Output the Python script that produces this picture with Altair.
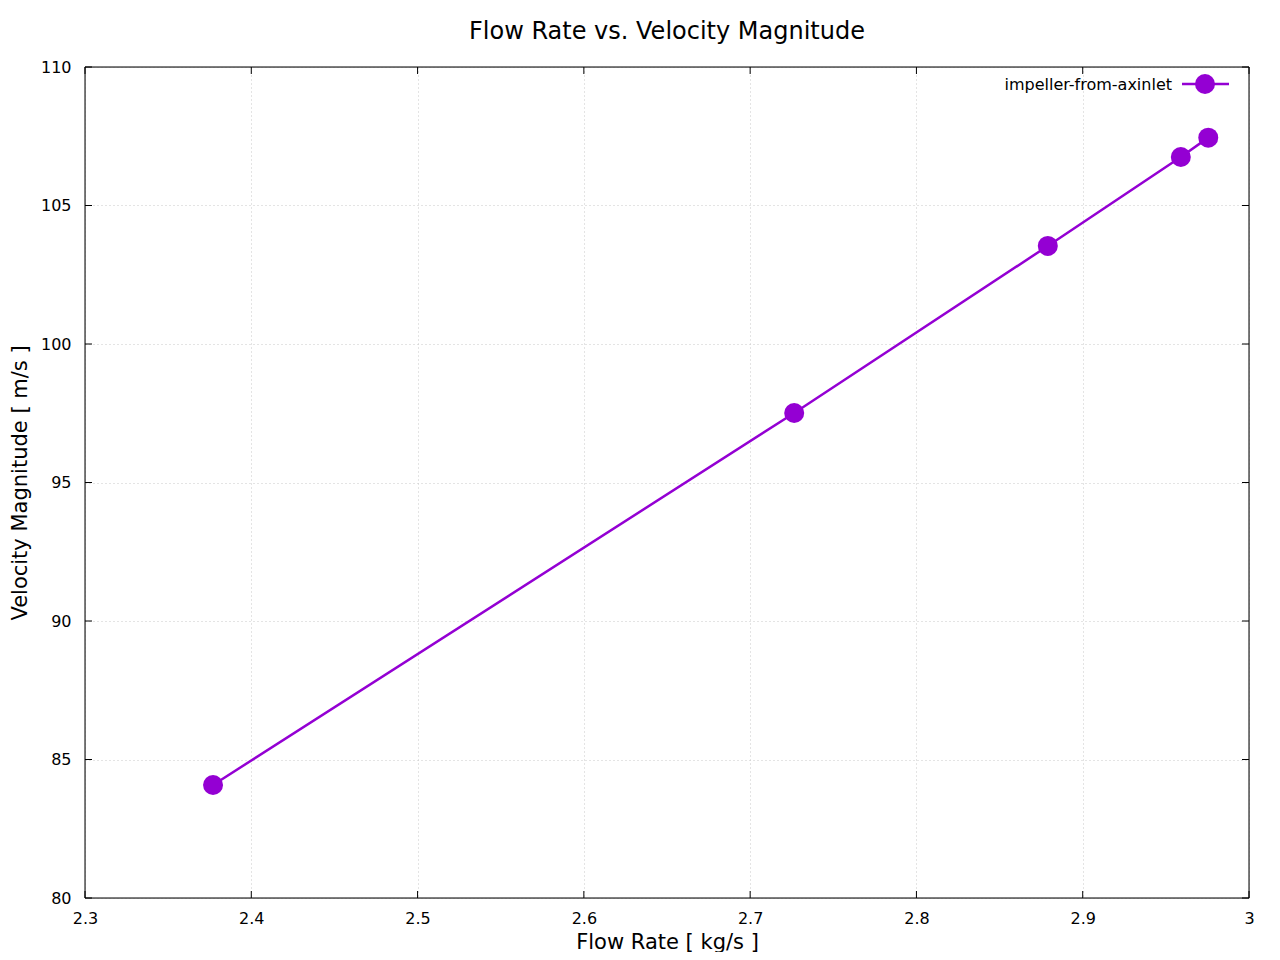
import altair as alt
import pandas as pd

flow_rate = [2.377, 2.7265, 2.879, 2.959, 2.9755]
velocity = [84.08, 97.51, 103.54, 106.75, 107.45]
series_name = "impeller-from-axinlet"
x_ticks = [2.3, 2.4, 2.5, 2.6, 2.7, 2.8, 2.9, 3.0]
y_ticks = [80, 85, 90, 95, 100, 105, 110]

COLOR = "#9400D3"
FONT = "DejaVu Sans"
W, H = 1164, 831

df = pd.DataFrame({"x": flow_rate, "y": velocity})
xt = pd.DataFrame({"x": x_ticks})
yt = pd.DataFrame({"y": y_ticks})

xscale = alt.Scale(domain=[2.3, 3.0], nice=False, zero=False)
yscale = alt.Scale(domain=[80, 110], nice=False, zero=False)

common = dict(grid=True, gridDash=[1, 3], gridColor="#c8c8c8", gridWidth=1,
              tickSize=0, labelFontSize=16, titleFontSize=21, labelFont=FONT, titleFont=FONT,
              titleFontWeight="normal", domain=False, labelColor="black", titleColor="black",
              labelFlush=False, labelOverlap=False, labelBound=False)

xaxis = alt.Axis(values=x_ticks, format="~g", title="Flow Rate [ kg/s ]",
                 labelPadding=12, titlePadding=5, **common)
yaxis = alt.Axis(values=y_ticks, title="Velocity Magnitude [ m/s ]",
                 labelPadding=14, titlePadding=10, **common)

line = alt.Chart(df).mark_line(color=COLOR, strokeWidth=2.5).encode(
    x=alt.X("x:Q", scale=xscale, axis=xaxis),
    y=alt.Y("y:Q", scale=yscale, axis=yaxis),
)
pts = alt.Chart(df).mark_point(filled=True, opacity=1, color=COLOR, size=400, shape="circle").encode(
    x=alt.X("x:Q", scale=xscale),
    y=alt.Y("y:Q", scale=yscale),
)

# frame on top of the grid
frame = alt.Chart(pd.DataFrame({"a": [0]})).mark_rect(fill=None, stroke="black", strokeWidth=1).encode(
    x=alt.value(0), x2=alt.value(W), y=alt.value(0), y2=alt.value(H))

# inward ticks (gnuplot style) on all four sides
tk = dict(color="black", strokeWidth=1)
xb = alt.Chart(xt).mark_rule(**tk).encode(x=alt.X("x:Q", scale=xscale), y=alt.value(H), y2=alt.value(H - 7))
xtop = alt.Chart(xt).mark_rule(**tk).encode(x=alt.X("x:Q", scale=xscale), y=alt.value(0), y2=alt.value(7))
yl = alt.Chart(yt).mark_rule(**tk).encode(y=alt.Y("y:Q", scale=yscale), x=alt.value(0), x2=alt.value(7))
yr = alt.Chart(yt).mark_rule(**tk).encode(y=alt.Y("y:Q", scale=yscale), x=alt.value(W), x2=alt.value(W - 7))

# legend (top-right, inside)
leg = pd.DataFrame({"label": [series_name]})
leg_text = alt.Chart(leg).mark_text(align="right", baseline="middle", fontSize=16, font=FONT, color="black").encode(
    text="label:N", x=alt.value(1087), y=alt.value(18))
leg_line = alt.Chart(leg).mark_rule(color=COLOR, strokeWidth=2.5).encode(
    x=alt.value(1097), x2=alt.value(1144), y=alt.value(17))
leg_pt = alt.Chart(leg).mark_point(filled=True, opacity=1, color=COLOR, size=400, shape="circle").encode(
    x=alt.value(1120), y=alt.value(17))

chart = alt.layer(line, pts, frame, xb, xtop, yl, yr, leg_line, leg_pt, leg_text).properties(
    width=W, height=H,
    title=alt.TitleParams("Flow Rate vs. Velocity Magnitude", font=FONT, fontSize=24,
                          fontWeight="normal", color="black", offset=15),
    autosize=alt.AutoSizeParams(type="none"),
    padding={"left": 77, "top": 59, "right": 23, "bottom": 54},
).configure_view(stroke=None).configure(background="white")

chart.save("out.html", embed_options={"renderer": "svg", "actions": False})
